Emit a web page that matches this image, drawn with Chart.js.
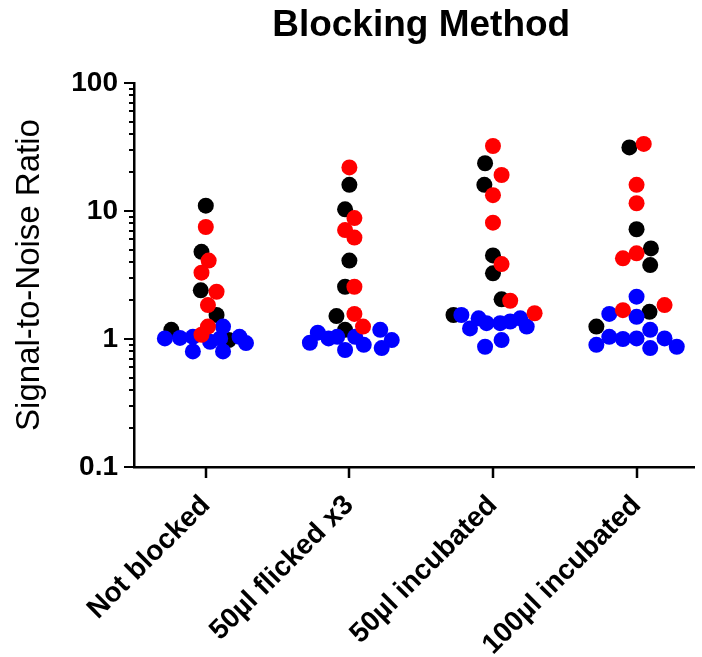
<!DOCTYPE html>
<html>
<head>
<meta charset="utf-8">
<script src="https://cdn.jsdelivr.net/npm/chart.js@4/dist/chart.umd.min.js"></script>
<style>
  html, body { margin: 0; padding: 0; background: #fff; }
  #wrap { width: 702px; height: 657px; }
</style>
</head>
<body>
<div id="wrap"><canvas id="swarmChart" width="702" height="657"></canvas></div>
<script>
// ─── DATA ────────────────────────────────────────────────
const categories = ['Not blocked', '50µl flicked x3', '50µl incubated', '100µl incubated'];

// values per category
const blackValues = [
  [11.0, 4.8, 2.4, 1.54, 1.18, 0.98],
  [16.0, 10.3, 4.1, 2.56, 1.51, 1.18],
  [23.6, 16.0, 4.5, 3.26, 2.04, 1.54],
  [31.4, 7.2, 5.1, 3.78, 1.63, 1.25]
];
const redValues = [
  [7.5, 4.1, 3.3, 2.34, 1.84, 1.25, 1.08],
  [21.9, 8.8, 7.1, 6.2, 2.56, 1.57, 1.25],
  [32.2, 19.1, 13.3, 8.1, 3.85, 1.99, 1.59],
  [33.4, 16.0, 11.5, 4.67, 4.27, 1.84, 1.68]
];
const blueValues = [
  [1.01, 1.02, 1.04, 0.80, 0.95, 1.25, 1.01, 0.80, 1.04, 0.93],
  [0.935, 1.12, 1.01, 1.04, 0.82, 1.04, 0.90, 1.18, 0.85, 0.98],
  [1.54, 1.21, 1.45, 0.87, 1.33, 0.98, 1.33, 1.37, 1.45, 1.25],
  [2.14, 1.57, 1.49, 0.90, 1.04, 1.00, 1.01, 1.18, 0.85, 1.01, 0.87]
];

// horizontal scatter of each dot inside its column (category units)
const blackJitter = [
  [0, -0.03, -0.035, 0.075, -0.24, 0.16],
  [0, -0.03, 0, -0.03, -0.09, -0.03],
  [-0.055, -0.06, 0, 0, 0.06, -0.275],
  [-0.05, 0, 0.10, 0.095, 0.09, -0.28]
];
const redJitter = [
  [0, 0.02, -0.03, 0.075, 0.015, 0.015, -0.03],
  [0, 0.035, -0.03, 0.035, 0.035, 0.035, 0.095],
  [0, 0.06, 0, 0, 0.06, 0.12, 0.29],
  [0.05, 0, 0, 0, -0.095, 0.195, -0.095]
];
const blueJitter = [
  [-0.285, -0.18, -0.09, -0.09, 0.03, 0.12, 0.10, 0.12, 0.235, 0.28],
  [-0.275, -0.22, -0.145, -0.085, -0.03, 0.04, 0.10, 0.215, 0.225, 0.295],
  [-0.22, -0.16, -0.10, -0.055, -0.045, 0.06, 0.05, 0.12, 0.19, 0.235],
  [0, -0.19, 0, -0.28, -0.19, -0.095, 0, 0.095, 0.095, 0.195, 0.28]
];

const yMajorTicks = [0.1, 1, 10, 100];
const yMinorSteps = [2, 3, 4, 5, 6, 7, 8, 9];

const chartTitle = 'Blocking Method';

// ─── HELPERS ─────────────────────────────────────────────
function toPoints(values, jitter) {
  const pts = [];
  values.forEach((col, c) => {
    col.forEach((v, i) => pts.push({ x: c + jitter[c][i], y: v }));
  });
  return pts;
}

function yTickList() {
  const list = [];
  yMajorTicks.forEach((m, i) => {
    list.push({ value: m, major: true });
    if (i < yMajorTicks.length - 1) {
      yMinorSteps.forEach(s => list.push({ value: m * s, major: false }));
    }
  });
  return list;
}

// tick marks drawn by hand so majors can be longer than minors,
// title centred over the full plot width (the x axis runs past the canvas edge)
const axisDecor = {
  id: 'axisDecor',
  afterDraw(chart) {
    const { ctx, chartArea, scales } = chart;
    ctx.save();
    ctx.strokeStyle = '#000';
    ctx.lineWidth = 2;
    scales.y.ticks.forEach(t => {
      const py = Math.round(scales.y.getPixelForValue(t.value));
      const len = t.major ? 10 : 5;
      ctx.beginPath();
      ctx.moveTo(chartArea.left - len, py);
      ctx.lineTo(chartArea.left, py);
      ctx.stroke();
    });
    ctx.lineWidth = 2.5;
    scales.x.ticks.forEach(t => {
      const px = Math.round(scales.x.getPixelForValue(t.value));
      ctx.beginPath();
      ctx.moveTo(px, chartArea.bottom);
      ctx.lineTo(px, chartArea.bottom + 11);
      ctx.stroke();
    });

    const plotRight = scales.x.getPixelForValue(categories.length - 0.5);
    ctx.fillStyle = '#000';
    ctx.font = 'bold 37px "Liberation Sans", Arial, sans-serif';
    ctx.textAlign = 'center';
    ctx.textBaseline = 'alphabetic';
    ctx.fillText(chartTitle, (chartArea.left + plotRight) / 2, 36);
    ctx.restore();
  }
};

// ─── CHART ───────────────────────────────────────────────
Chart.defaults.font.family = '"Liberation Sans", Arial, sans-serif';
Chart.defaults.color = '#000';

const dotStyle = { pointRadius: 8, pointHoverRadius: 8, pointBorderWidth: 0, showLine: false };

new Chart(document.getElementById('swarmChart').getContext('2d'), {
  type: 'scatter',
  data: {
    datasets: [
      { label: 'Black', data: toPoints(blackValues, blackJitter), backgroundColor: '#000000', order: 3, ...dotStyle },
      { label: 'Blue', data: toPoints(blueValues, blueJitter), backgroundColor: '#0000ff', order: 2, ...dotStyle },
      { label: 'Red', data: toPoints(redValues, redJitter), backgroundColor: '#ff0000', order: 1, ...dotStyle }
    ]
  },
  options: {
    responsive: false,
    animation: false,
    layout: { padding: { top: 83, left: 0, right: 0, bottom: 0 } },
    plugins: {
      legend: { display: false },
      tooltip: { enabled: false },
      title: { display: false }
    },
    scales: {
      x: {
        type: 'linear',
        min: -0.5,
        max: 3.40,
        afterFit: s => { s.height = 190; },
        afterBuildTicks: s => { s.ticks = categories.map((c, i) => ({ value: i })); },
        grid: { display: true, drawOnChartArea: false, drawTicks: true, tickLength: 11, tickColor: 'rgba(0,0,0,0)' },
        border: { display: true, color: '#000', width: 2.5 },
        ticks: {
          autoSkip: false,
          minRotation: 45,
          maxRotation: 45,
          padding: 11,
          font: { size: 28, weight: 'bold' },
          callback: v => categories[v]
        }
      },
      y: {
        type: 'logarithmic',
        min: 0.1,
        max: 100,
        afterFit: s => { s.width = 134; },
        afterBuildTicks: s => { s.ticks = yTickList(); },
        grid: { display: true, drawOnChartArea: false, drawTicks: true, tickLength: 10, tickColor: 'rgba(0,0,0,0)' },
        border: { display: true, color: '#000', width: 2.5 },
        ticks: {
          autoSkip: false,
          padding: 6,
          font: { size: 28, weight: 'bold' },
          callback: (v, i, ticks) => ticks[i].major ? String(v) : ''
        },
        title: {
          display: true,
          text: 'Signal-to-Noise Ratio',
          font: { size: 33 },
          color: '#000',
          padding: { top: 10, bottom: 0 }
        }
      }
    }
  },
  plugins: [axisDecor]
});
</script>
</body>
</html>
